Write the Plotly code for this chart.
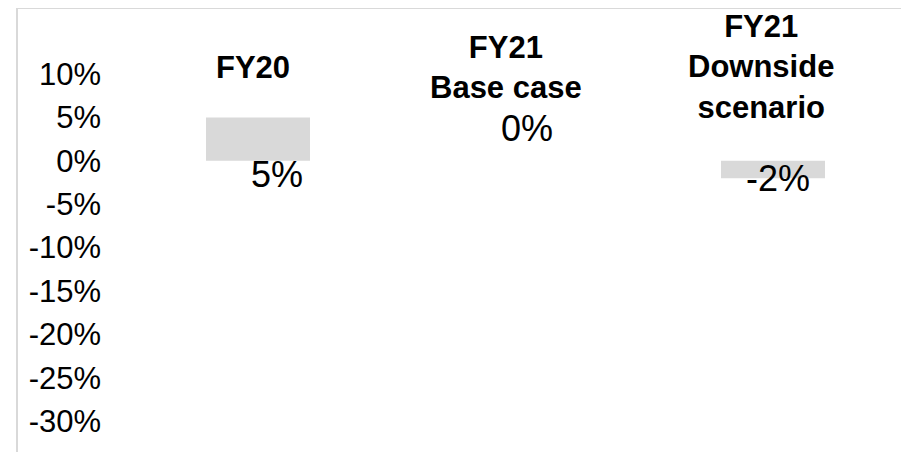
import plotly.graph_objects as go

# values (percent)
categories = ['FY20', 'FY21 Base case', 'FY21 Downside scenario']
cat_labels = ['FY20', 'FY21<br>Base case', 'FY21<br>Downside<br>scenario']
growth = [5, 0, -2]
tick_vals = [10, 5, 0, -5, -10, -15, -20, -25, -30]

# label placement tweaks (pixels), to mimic the original layout
value_dx = [19, 11, 5]
value_dy = [-57, 32, 0]
cat_dx = [-5, -10, -12]

FONT = 'Liberation Sans, Arial, sans-serif'
GREY = '#d9d9d9'

W, H = 909, 452
L, T = 94, 0

fig = go.Figure()

fig.add_trace(go.Bar(
    x=list(range(len(categories))),
    y=growth,
    width=0.404,
    marker=dict(color=GREY, line=dict(width=0)),
    hoverinfo='skip',
))

annotations = []
for i, v in enumerate(growth):
    # value labels
    annotations.append(dict(
        x=i, y=v, xref='x', yref='y',
        text=f'{v}%', showarrow=False,
        font=dict(family=FONT, size=36, color='black'),
        xanchor='center', yanchor='middle',
        xshift=value_dx[i], yshift=value_dy[i],
    ))
    # category headers
    annotations.append(dict(
        x=i, y=(H - 59) / (H - T), xref='x', yref='paper',
        text=f'<b>{cat_labels[i]}</b>', showarrow=False,
        font=dict(family=FONT, size=31, color='black'),
        xanchor='center', yanchor='middle', align='center',
        xshift=cat_dx[i],
    ))

# light frame (top + left edges)
x_frame = (9 - L) / (W - L)
shapes = [
    dict(type='line', xref='paper', yref='paper', x0=x_frame, x1=1, y0=1, y1=1,
         line=dict(color=GREY, width=2)),
    dict(type='line', xref='paper', yref='paper', x0=x_frame, x1=x_frame, y0=1, y1=0,
         line=dict(color=GREY, width=2)),
]

px_per_pct = 8.68
zero_px = 152.8
y_top = (zero_px - T) / px_per_pct
y_bot = y_top - (H - T) / px_per_pct
x_left = -(250 - L) / 257.5
x_right = (W - 250) / 257.5

fig.update_layout(
    width=W, height=H,
    margin=dict(l=L, r=0, t=T, b=0),
    plot_bgcolor='white', paper_bgcolor='white',
    showlegend=False,
    annotations=annotations,
    shapes=shapes,
    xaxis=dict(range=[x_left, x_right], visible=False, fixedrange=True),
    yaxis=dict(
        range=[y_bot, y_top],
        tickvals=tick_vals,
        ticktext=[f'{t}%' for t in tick_vals],
        tickfont=dict(family=FONT, size=31, color='black'),
        showgrid=False, zeroline=False, showline=False, ticks='',
        fixedrange=True,
    ),
)

fig.write_html('out.html')
